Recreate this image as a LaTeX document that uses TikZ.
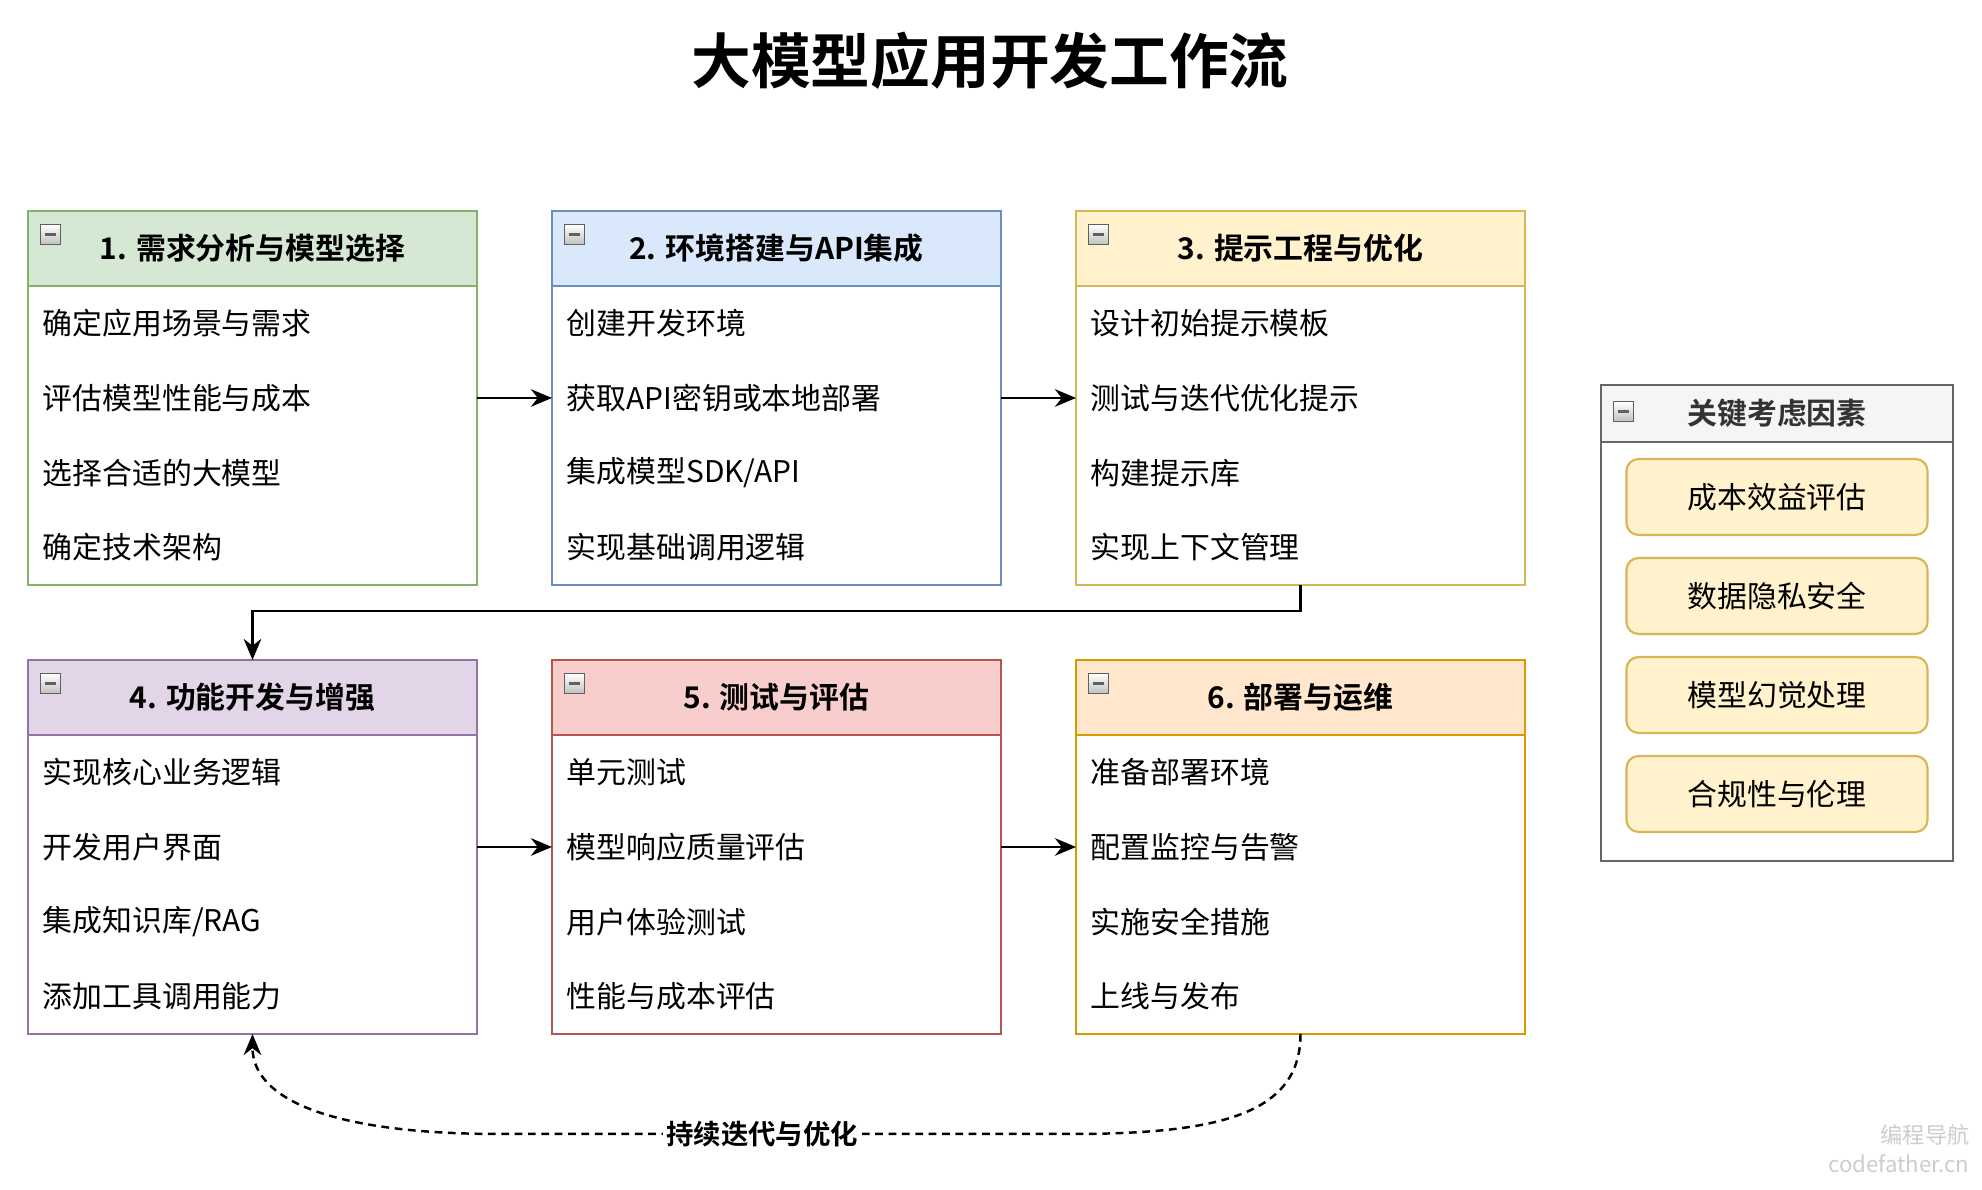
\documentclass[tikz,border=0pt]{standalone}
\usepackage{fontspec}
\setmainfont{Noto Sans CJK SC}[BoldFont={Noto Sans CJK SC Bold}]
\usetikzlibrary{arrows.meta,positioning}
\definecolor{grnfill}{HTML}{D5E8D4}\definecolor{grnline}{HTML}{82B366}
\definecolor{blufill}{HTML}{DAE8FC}\definecolor{bluline}{HTML}{6C8EBF}
\definecolor{yelfill}{HTML}{FFF2CC}\definecolor{yelline}{HTML}{D6B656}
\definecolor{purfill}{HTML}{E1D5E7}\definecolor{purline}{HTML}{9673A6}
\definecolor{redfill}{HTML}{F8CECC}\definecolor{redline}{HTML}{B85450}
\definecolor{orafill}{HTML}{FFE6CC}\definecolor{oraline}{HTML}{D79B00}
\definecolor{pnlfill}{HTML}{F5F5F5}\definecolor{pnlline}{HTML}{666666}
\definecolor{pnltext}{HTML}{333333}

\begin{document}
\begin{tikzpicture}[
  node distance=0.75cm,
  lane/.style={draw=#1, fill=white, line width=0.6pt, outer sep=0pt, minimum width=4.49cm, minimum height=3.74cm, inner sep=0pt},
  lanehead/.style={fill=#1, line width=0.6pt, outer sep=0pt, minimum width=4.49cm, minimum height=0.75cm, inner sep=0pt, anchor=north, font=\fontsize{8.5}{10}\selectfont\bfseries},
  item/.style={anchor=west, inner sep=0pt, font=\fontsize{8.5}{10}\selectfont},
  toggle/.style={anchor=north west, minimum size=0.2cm, inner sep=0pt, draw=gray!75!black, line width=0.4pt, top color=white, bottom color=gray!50,
    path picture={\draw[line width=0.9pt] ([xshift=0.045cm]path picture bounding box.west) -- ([xshift=-0.045cm]path picture bounding box.east);}},
  factor/.style={draw=yelline, fill=yelfill, line width=0.6pt, outer sep=0pt, rounded corners=0.12cm, minimum width=3.01cm, minimum height=0.76cm, font=\fontsize{8.5}{10}\selectfont},
  arrow/.style={-{Stealth[length=6pt,width=5pt]}, line width=0.7pt}
]
\useasboundingbox (0,0) rectangle (19.82,11.90);

\node[font=\fontsize{17}{20}\selectfont\bfseries] (title) at (9.90,11.29) {大模型应用开发工作流};

% stages, top row
\node[lane=grnline] (s1) at (2.525,7.92) {};
\node[lane=bluline, right=of s1] (s2) {};
\node[lane=yelline, right=of s2] (s3) {};
% stages, bottom row
\node[lane=purline, below=of s1] (s4) {};
\node[lane=redline, right=of s4] (s5) {};
\node[lane=oraline, right=of s5] (s6) {};

\node[lanehead=grnfill, draw=grnline] (s1h) at (s1.north) {1. 需求分析与模型选择};
\node[lanehead=blufill, draw=bluline] (s2h) at (s2.north) {2. 环境搭建与API集成};
\node[lanehead=yelfill, draw=yelline] (s3h) at (s3.north) {3. 提示工程与优化};
\node[lanehead=purfill, draw=purline] (s4h) at (s4.north) {4. 功能开发与增强};
\node[lanehead=redfill, draw=redline] (s5h) at (s5.north) {5. 测试与评估};
\node[lanehead=orafill, draw=oraline] (s6h) at (s6.north) {6. 部署与运维};

\foreach \s in {s1,s2,s3,s4,s5,s6}
  \node[toggle] (\s t) at ([xshift=0.12cm,yshift=-0.13cm]\s.north west) {};

\foreach \txt [count=\i] in {确定应用场景与需求,评估模型性能与成本,选择合适的大模型,确定技术架构}
  \node[item] (s1i\i) at ([xshift=0.14cm,yshift={0.374cm-0.7475cm*\i}]s1h.south west) {\txt};
\foreach \txt [count=\i] in {创建开发环境,获取API密钥或本地部署,集成模型SDK/API,实现基础调用逻辑}
  \node[item] (s2i\i) at ([xshift=0.14cm,yshift={0.374cm-0.7475cm*\i}]s2h.south west) {\txt};
\foreach \txt [count=\i] in {设计初始提示模板,测试与迭代优化提示,构建提示库,实现上下文管理}
  \node[item] (s3i\i) at ([xshift=0.14cm,yshift={0.374cm-0.7475cm*\i}]s3h.south west) {\txt};
\foreach \txt [count=\i] in {实现核心业务逻辑,开发用户界面,集成知识库/RAG,添加工具调用能力}
  \node[item] (s4i\i) at ([xshift=0.14cm,yshift={0.374cm-0.7475cm*\i}]s4h.south west) {\txt};
\foreach \txt [count=\i] in {单元测试,模型响应质量评估,用户体验测试,性能与成本评估}
  \node[item] (s5i\i) at ([xshift=0.14cm,yshift={0.374cm-0.7475cm*\i}]s5h.south west) {\txt};
\foreach \txt [count=\i] in {准备部署环境,配置监控与告警,实施安全措施,上线与发布}
  \node[item] (s6i\i) at ([xshift=0.14cm,yshift={0.374cm-0.7475cm*\i}]s6h.south west) {\txt};

% side panel
\node[draw=pnlline, fill=white, line width=0.6pt, outer sep=0pt, minimum width=3.52cm, minimum height=4.76cm] (pnl) at (17.77,5.67) {};
\node[lanehead=pnlfill, draw=pnlline, minimum width=3.52cm, minimum height=0.57cm, text=pnltext] (pnlh) at (pnl.north) {关键考虑因素};
\node[toggle] (pnlt) at ([xshift=0.12cm,yshift=-0.16cm]pnl.north west) {};
\node[factor, below=0.17cm of pnlh] (f1) {成本效益评估};
\node[factor, below=0.23cm of f1] (f2) {数据隐私安全};
\node[factor, below=0.23cm of f2] (f3) {模型幻觉处理};
\node[factor, below=0.23cm of f3] (f4) {合规性与伦理};

\draw[arrow] (s1) -- (s2);
\draw[arrow] (s2) -- (s3);
\draw[arrow] (s3.south) -- ++(0,-0.26) -| (s4.north);
\draw[arrow] (s4) -- (s5);
\draw[arrow] (s5) -- (s6);
\draw[arrow, dash pattern=on 2.2pt off 1.6pt] (s6.south) .. controls +(0,-0.8) and +(1.5,0) .. (10.7,0.56)
  -- node[pos=0.54, fill=white, inner sep=1pt, font=\fontsize{7.8}{9}\selectfont\bfseries] (loop) {持续迭代与优化} (5.0,0.56)
  .. controls +(-1.7,0) and +(0,-0.65) .. (s4.south);

% watermark
\node[anchor=east, inner sep=0pt, text=gray!40, font=\fontsize{6.3}{7}\selectfont] (wm1) at (19.70,0.55) {编程导航};
\node[anchor=east, inner sep=0pt, text=gray!40, font=\fontsize{6.3}{7}\selectfont] (wm2) at (19.70,0.26) {codefather.cn};
\end{tikzpicture}
\end{document}
